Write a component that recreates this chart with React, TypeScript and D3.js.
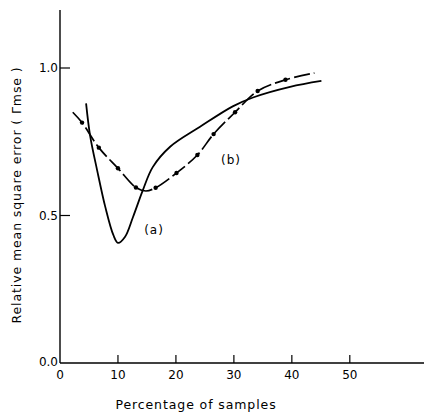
import React, { useEffect, useRef } from 'react';
import * as d3 from 'd3';

// curve (a): solid line
const curveAX = [4.5, 5.2, 6.4, 7.8, 9.2, 10.0, 11.2, 12.6, 14.3, 16.0, 19.0, 24.1, 29.8, 33.3, 39.7, 45.1];
const curveAY = [0.88, 0.77, 0.654, 0.53, 0.434, 0.407, 0.427, 0.495, 0.586, 0.664, 0.733, 0.80, 0.87, 0.90, 0.936, 0.956];

// curve (b): dash-dot line, dots at sample points
const curveBX = [2.2, 3.8, 6.7, 10.0, 13.1, 14.8, 16.5, 20.1, 23.7, 26.5, 30.2, 34.1, 38.9, 43.9];
const curveBY = [0.85, 0.815, 0.73, 0.66, 0.595, 0.583, 0.594, 0.644, 0.705, 0.776, 0.85, 0.922, 0.96, 0.983];
const dotIdx = [1, 2, 3, 4, 6, 7, 8, 9, 10, 11, 12];

const xTicks = [0, 10, 20, 30, 40, 50];
const yTicks = [0.0, 0.5, 1.0];

const App = () => {
  const ref = useRef<SVGSVGElement>(null);

  useEffect(() => {
    const svg = d3.select(ref.current);
    svg.selectAll('*').remove();

    const width = 424;
    const font = '"DejaVu Sans", sans-serif';

    const x = d3.scaleLinear().domain([0, 62.8]).range([60, 424]);
    const y = d3.scaleLinear().domain([0, 1.0]).range([363, 68]);

    const line = d3.line<[number, number]>()
      .x(d => x(d[0]))
      .y(d => y(d[1]))
      .curve(d3.curveCatmullRom.alpha(0.5));

    // axes
    svg.append('line')
      .attr('x1', x(0)).attr('x2', x(0))
      .attr('y1', 10).attr('y2', y(0))
      .attr('stroke', '#000').attr('stroke-width', 1.4);
    svg.append('line')
      .attr('x1', x(0)).attr('x2', width)
      .attr('y1', y(0)).attr('y2', y(0))
      .attr('stroke', '#000').attr('stroke-width', 1.4);

    // y ticks (inward)
    yTicks.filter(t => t > 0).forEach(t => {
      svg.append('line')
        .attr('x1', x(0)).attr('x2', x(0) + 10)
        .attr('y1', y(t)).attr('y2', y(t))
        .attr('stroke', '#000').attr('stroke-width', 1.2);
    });
    yTicks.forEach(t => {
      svg.append('text')
        .attr('x', x(0) - 2).attr('y', y(t) + (t === 0 ? -1 : 0))
        .attr('text-anchor', 'end').attr('dominant-baseline', 'central')
        .style('font-family', font).style('font-size', '12px')
        .text(t.toFixed(1));
    });

    // x ticks (inward)
    xTicks.filter(t => t > 0).forEach(t => {
      svg.append('line')
        .attr('x1', x(t)).attr('x2', x(t))
        .attr('y1', y(0)).attr('y2', y(0) - 8)
        .attr('stroke', '#000').attr('stroke-width', 1.2);
    });
    xTicks.forEach(t => {
      svg.append('text')
        .attr('x', x(t)).attr('y', y(0) + 12)
        .attr('text-anchor', 'middle').attr('dominant-baseline', 'central')
        .style('font-family', font).style('font-size', '12px')
        .text(t);
    });

    // axis titles
    svg.append('text')
      .attr('x', 196).attr('y', 404)
      .attr('text-anchor', 'middle').attr('dominant-baseline', 'central')
      .style('font-family', font).style('font-size', '12.5px')
      .style('letter-spacing', '0.9px')
      .text('Percentage of samples');
    svg.append('text')
      .attr('transform', 'translate(16,195) rotate(-90)')
      .attr('text-anchor', 'middle').attr('dominant-baseline', 'central')
      .style('font-family', font).style('font-size', '12.5px')
      .style('letter-spacing', '0.9px')
      .text('Relative mean square error ( Γmse )');

    // curve (a)
    const aData = curveAX.map((v, i) => [v, curveAY[i]] as [number, number]);
    svg.append('path')
      .attr('d', line(aData))
      .attr('fill', 'none').attr('stroke', '#000').attr('stroke-width', 1.8);

    // curve (b)
    const bData = curveBX.map((v, i) => [v, curveBY[i]] as [number, number]);
    svg.append('path')
      .attr('d', line(bData))
      .attr('fill', 'none').attr('stroke', '#000').attr('stroke-width', 1.7)
      .attr('stroke-dasharray', '16 4');
    svg.append('g')
      .selectAll('circle')
      .data(dotIdx)
      .join('circle')
      .attr('cx', i => x(curveBX[i]))
      .attr('cy', i => y(curveBY[i]))
      .attr('r', 2.2)
      .attr('fill', '#000');

    // curve labels
    svg.append('text')
      .attr('x', 154).attr('y', 230)
      .attr('text-anchor', 'middle').attr('dominant-baseline', 'central')
      .style('font-family', font).style('font-size', '12px')
      .style('letter-spacing', '1px')
      .text('(a)');
    svg.append('text')
      .attr('x', 231).attr('y', 160)
      .attr('text-anchor', 'middle').attr('dominant-baseline', 'central')
      .style('font-family', font).style('font-size', '12px')
      .style('letter-spacing', '1px')
      .text('(b)');
  }, []);

  return (
    <svg
      ref={ref}
      width={424}
      height={413}
      style={{ position: 'absolute', left: 0, top: 0, background: '#fff' }}
    />
  );
};

export default App;
